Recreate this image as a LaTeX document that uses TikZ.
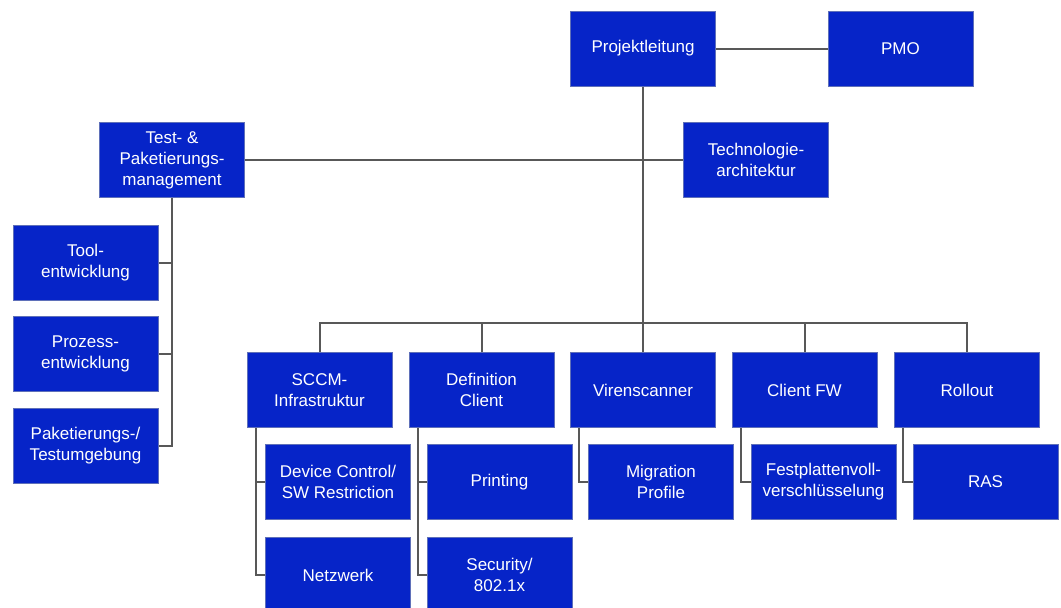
\documentclass[tikz,border=0pt]{standalone}
\usepackage{fontspec}
\setmainfont{Liberation Sans}
\definecolor{boxblue}{RGB}{6,36,200}
\definecolor{boxedge}{RGB}{95,112,185}
\definecolor{linegray}{RGB}{88,88,88}
\tikzset{
  orgbox/.style={fill=boxblue, draw=boxedge, line width=1pt, minimum width=145pt, minimum height=75pt,
    inner sep=0pt, text=white, align=center, font=\fontsize{17}{21}\selectfont},
  conn/.style={draw=linegray, line width=2pt}
}
\begin{document}
\begin{tikzpicture}[x=1pt,y=-1pt]
\useasboundingbox (0,0) rectangle (1061,608);
\coordinate (bus) at (643,323);
\begin{scope}
\clip (0,0) rectangle (1061,608);
\node[orgbox] (pl) at (643,48.5) {Projektleitung};
\node[orgbox] (pmo) at (900.5,48.5) {PMO};
\node[orgbox] (tech) at (756,160) {Technologie-\\architektur};
\node[orgbox] (test) at (172,160) {Test- \&\\Paketierungs-\\management};
\node[orgbox] (tool) at (85.5,262.5) {Tool-\\entwicklung};
\node[orgbox] (proz) at (85.5,354) {Prozess-\\entwicklung};
\node[orgbox] (pak) at (85.5,445.5) {Paketierungs-/\\Testumgebung};
\node[orgbox] (sccm) at (319.5,390) {SCCM-\\Infrastruktur};
\node[orgbox] (def) at (481.5,390) {Definition\\Client};
\node[orgbox] (vir) at (643,390) {Virenscanner};
\node[orgbox] (cfw) at (804.5,390) {Client FW};
\node[orgbox] (roll) at (967,390) {Rollout};
\node[orgbox] (dev) at (338,482) {Device Control/\\SW Restriction};
\node[orgbox] (net) at (338,575) {Netzwerk};
\node[orgbox] (print) at (499.5,482) {Printing};
\node[orgbox] (sec) at (499.5,575) {Security/\\802.1x};
\node[orgbox] (mig) at (661,482) {Migration\\Profile};
\node[orgbox] (fest) at (823.5,482) {Festplattenvoll-\\verschlüsselung};
\node[orgbox] (ras) at (985.5,482) {RAS};
\end{scope}
% connectors
\draw[conn] (pl.east) -- (pmo.west);
\draw[conn] (pl.south) -- (bus);
\draw[conn] (test.east) -- (tech.west);
\draw[conn] (sccm.north) |- (bus) -| (roll.north);
\draw[conn] (def.north) -- (def.north |- bus);
\draw[conn] (vir.north) -- (vir.north |- bus);
\draw[conn] (cfw.north) -- (cfw.north |- bus);
\draw[conn] (test.south) |- (tool.east);
\draw[conn] (test.south) |- (proz.east);
\draw[conn] (test.south) |- (pak.east);
\draw[conn] ([xshift=9pt]sccm.south west) |- (dev.west);
\draw[conn] ([xshift=9pt]sccm.south west) |- (net.west);
\draw[conn] ([xshift=9pt]def.south west) |- (print.west);
\draw[conn] ([xshift=9pt]def.south west) |- (sec.west);
\draw[conn] ([xshift=9pt]vir.south west) |- (mig.west);
\draw[conn] ([xshift=9pt]cfw.south west) |- (fest.west);
\draw[conn] ([xshift=9pt]roll.south west) |- (ras.west);
\end{tikzpicture}
\end{document}
